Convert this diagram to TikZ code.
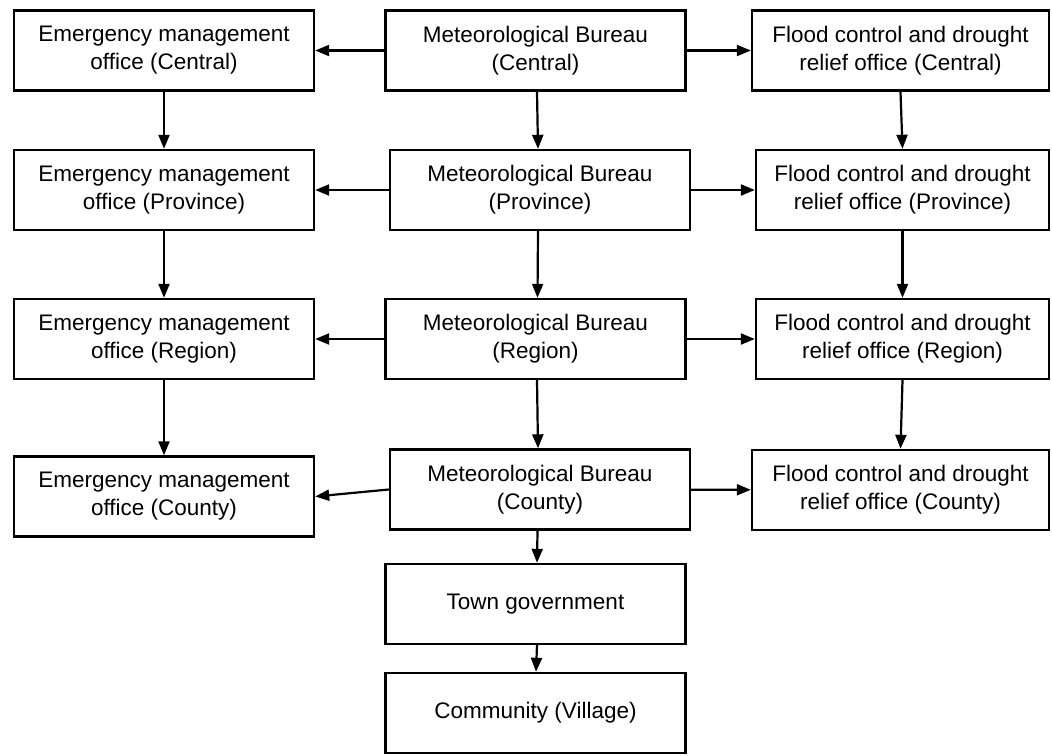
\documentclass[tikz,border=0pt]{standalone}
\usepackage{fontspec}
\setmainfont{Liberation Sans}
\usetikzlibrary{arrows.meta,positioning}
\tikzset{
	>={Triangle[length=14pt,width=11pt]},
	office/.style={draw, line width=2.4pt, align=center, inner sep=0pt,
		font=\fontsize{22.5}{28}\selectfont},
	wide/.style={office, minimum width=300pt, minimum height=80pt},
}

\begin{document}
\begin{tikzpicture}[
            ->,
            x=1pt, y=-1pt,
            line width=2.2pt
        ]
        \useasboundingbox (0,0) rectangle (1052,755);
        % emergency management column
        \node[wide] (em1) at (164,50.5) {Emergency management\\office (Central)};
        \node[wide] (em2) at (164,190) {Emergency management\\office (Province)};
        \node[wide] (em3) at (164,339) {Emergency management\\office (Region)};
        \node[wide] (em4) at (164,496.5) {Emergency management\\office (County)};
        % meteorological bureau column
        \node[wide] (mb1) at (535.5,50.5) {Meteorological Bureau\\(Central)};
        \node[wide] (mb2) at (540,190) {Meteorological Bureau\\(Province)};
        \node[wide] (mb3) at (535.5,339) {Meteorological Bureau\\(Region)};
        \node[wide] (mb4) at (540,489.5) {Meteorological Bureau\\(County)};
        \node[wide] (town) at (535.5,604) {Town government};
        \node[wide] (village) at (535.5,713) {Community (Village)};
        % flood control column
        \node[wide, minimum width=297pt] (fc1) at (900.5,50.5) {Flood control and drought\\relief office (Central)};
        \node[wide, minimum width=293pt] (fc2) at (902.5,190) {Flood control and drought\\relief office (Province)};
        \node[wide, minimum width=293pt] (fc3) at (902.5,339) {Flood control and drought\\relief office (Region)};
        \node[wide, minimum width=297pt] (fc4) at (900.5,490) {Flood control and drought\\relief office (County)};

        \draw (mb1) -- (em1);
        \draw (mb2) -- (em2);
        \draw (mb3) -- (em3);
        \draw (mb4.west) -- (em4.east);
        \draw (mb1) -- (fc1);
        \draw (mb2) -- (fc2);
        \draw (mb3) -- (fc3);
        \draw (mb4) -- (fc4);

        \draw (em1) -- (em2);
        \draw (em2) -- (em3);
        \draw (em3) -- (em4);
        \draw ([xshift=1.5pt]mb1.south) -- ([xshift=-2pt]mb2.north);
        \draw ([xshift=-2pt]mb2.south) -- ([xshift=2pt]mb3.north);
        \draw ([xshift=1.5pt]mb3.south) -- ([xshift=-2pt]mb4.north);
        \draw ([xshift=-2.5pt]mb4.south) -- ([xshift=1.5pt]town.north);
        \draw ([xshift=1.5pt]town.south) -- ([xshift=0.5pt]village.north);
        \draw (fc1.south) -- (fc2.north);
        \draw (fc2.south) -- (fc3.north);
        \draw (fc3.south) -- (fc4.north);
    \end{tikzpicture}
\end{document}
